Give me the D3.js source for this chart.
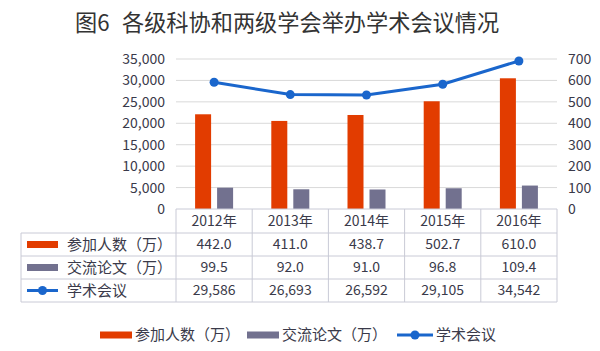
<!DOCTYPE html>
<html>
<head>
<meta charset="utf-8">
<script src="https://cdn.jsdelivr.net/npm/d3@7"></script>
<style>
  body { margin: 0; background: #fff; }
  svg { font-family: "Noto Sans CJK SC", "Noto Sans", sans-serif; }
</style>
</head>
<body>
<svg width="600" height="351"></svg>
<script>
const width = 600;
const height = 351;

// 数据
const years = ["2012年", "2013年", "2014年", "2015年", "2016年"];
const participants = [442.0, 411.0, 438.7, 502.7, 610.0]; // 参加人数（万）
const papers = [99.5, 92.0, 91.0, 96.8, 109.4]; // 交流论文（万）
const meetings = [29586, 26693, 26592, 29105, 34542]; // 学术会议
const leftTicks = [0, 5000, 10000, 15000, 20000, 25000, 30000, 35000];
const rightTicks = [0, 100, 200, 300, 400, 500, 600, 700];
const seriesNames = ["参加人数（万）", "交流论文（万）", "学术会议"];

const colors = { red: "#e23c00", gray: "#72718f", blue: "#1a66cc" };
const textColor = "#3a3a4a";

const plot = { left: 176, right: 557, top: 59, bottom: 209 };

const svg = d3.select("svg");

// 标题
const title = svg.append("text")
    .attr("y", 31)
    .attr("font-size", 22.2)
    .attr("fill", "#333");
title.append("tspan").attr("x", 75).text("图6");
title.append("tspan").attr("x", 122).text("各级科协和两级学会举办学术会议情况");

const x = d3.scaleBand().domain(years).range([plot.left, plot.right]);
const yLeft = d3.scaleLinear().domain([0, 35000]).range([plot.bottom, plot.top]);
const yRight = d3.scaleLinear().domain([0, 700]).range([plot.bottom, plot.top]);

// 网格线
svg.append("g")
    .selectAll("line")
    .data(leftTicks.slice(1))
    .join("line")
    .attr("x1", plot.left)
    .attr("x2", plot.right)
    .attr("y1", (d) => yLeft(d))
    .attr("y2", (d) => yLeft(d))
    .attr("stroke", "#d9d9d9")
    .attr("stroke-width", 1);

// 左轴
const leftAxis = svg.append("g")
    .attr("transform", `translate(${plot.left - 8},0)`)
    .call(d3.axisLeft(yLeft).tickValues(leftTicks).tickFormat(d3.format(",")).tickSize(0).tickPadding(3));
leftAxis.select(".domain").remove();
leftAxis.selectAll("text").attr("font-size", 14).attr("fill", textColor).attr("font-family", "Noto Sans CJK SC");

// 右轴
const rightAxis = svg.append("g")
    .attr("transform", `translate(${plot.right + 8},0)`)
    .call(d3.axisRight(yRight).tickValues(rightTicks).tickSize(0).tickPadding(3));
rightAxis.select(".domain").remove();
rightAxis.selectAll("text").attr("font-size", 14).attr("fill", textColor).attr("font-family", "Noto Sans CJK SC");

// 柱子
const barW = 16;
const cx = (d) => x(d) + x.bandwidth() / 2;

svg.append("g")
    .selectAll("rect")
    .data(years)
    .join("rect")
    .attr("x", (d) => cx(d) - 19)
    .attr("width", barW)
    .attr("y", (d, i) => yRight(participants[i]))
    .attr("height", (d, i) => plot.bottom - yRight(participants[i]))
    .attr("fill", colors.red);

svg.append("g")
    .selectAll("rect")
    .data(years)
    .join("rect")
    .attr("x", (d) => cx(d) + 3)
    .attr("width", barW)
    .attr("y", (d, i) => yRight(papers[i]))
    .attr("height", (d, i) => plot.bottom - yRight(papers[i]))
    .attr("fill", colors.gray);

// 折线
const line = d3.line()
    .x((d, i) => cx(years[i]))
    .y((d) => yLeft(d));

svg.append("path")
    .datum(meetings)
    .attr("d", line)
    .attr("fill", "none")
    .attr("stroke", colors.blue)
    .attr("stroke-width", 3);

svg.append("g")
    .selectAll("circle")
    .data(meetings)
    .join("circle")
    .attr("cx", (d, i) => cx(years[i]))
    .attr("cy", (d) => yLeft(d))
    .attr("r", 4.5)
    .attr("fill", colors.blue);

// 数据表
const tableLeft = 21;
const rowEdges = [209, 233, 256, 279, 302];
const border = "#c9cad6";
const table = svg.append("g");

// 表头行
table.append("line")
    .attr("x1", plot.left).attr("x2", plot.right)
    .attr("y1", rowEdges[0]).attr("y2", rowEdges[0])
    .attr("stroke", border);
// 水平线
table.selectAll(".hline")
    .data(rowEdges.slice(1))
    .join("line")
    .attr("x1", tableLeft)
    .attr("x2", plot.right)
    .attr("y1", (d) => d)
    .attr("y2", (d) => d)
    .attr("stroke", border);
// 竖线
const colEdges = years.map((d) => x(d)).concat([plot.right]);
table.selectAll(".vline")
    .data(colEdges)
    .join("line")
    .attr("x1", (d) => d).attr("x2", (d) => d)
    .attr("y1", rowEdges[0]).attr("y2", rowEdges[4])
    .attr("stroke", border);
table.append("line")
    .attr("x1", tableLeft).attr("x2", tableLeft)
    .attr("y1", rowEdges[1]).attr("y2", rowEdges[4])
    .attr("stroke", border);

// 年份
table.selectAll(".year")
    .data(years)
    .join("text")
    .attr("x", (d) => cx(d))
    .attr("y", (rowEdges[0] + rowEdges[1]) / 2)
    .attr("dy", "0.35em")
    .attr("text-anchor", "middle")
    .attr("font-size", 14)
    .attr("fill", textColor)
    .text((d) => d);

const rows = [
    participants.map((v) => v.toFixed(1)),
    papers.map((v) => v.toFixed(1)),
    meetings.map(d3.format(",")),
];
rows.forEach((vals, r) => {
    const yMid = (rowEdges[r + 1] + rowEdges[r + 2]) / 2;
    table.append("g")
        .selectAll("text")
        .data(vals)
        .join("text")
        .attr("x", (d, i) => cx(years[i]))
        .attr("y", yMid)
        .attr("dy", "0.35em")
        .attr("text-anchor", "middle")
        .attr("font-size", 14)
        .attr("fill", textColor)
        .text((d) => d);
});

// 图例符号
function drawKey(g, kind, x0, yMid, w, thick) {
    if (kind === 2) {
        g.append("line")
            .attr("x1", x0).attr("x2", x0 + w)
            .attr("y1", yMid).attr("y2", yMid)
            .attr("stroke", colors.blue).attr("stroke-width", 3);
        g.append("circle")
            .attr("cx", x0 + w / 2).attr("cy", yMid).attr("r", 4.5)
            .attr("fill", colors.blue);
    } else {
        g.append("rect")
            .attr("x", x0).attr("y", yMid - thick / 2)
            .attr("width", w).attr("height", thick)
            .attr("fill", kind === 0 ? colors.red : colors.gray);
    }
}

seriesNames.forEach((name, r) => {
    const yMid = (rowEdges[r + 1] + rowEdges[r + 2]) / 2;
    drawKey(table, r, 27, yMid, 31, 7);
    table.append("text")
        .attr("x", 67)
        .attr("y", yMid)
        .attr("dy", "0.35em")
        .attr("font-size", 15)
        .attr("fill", textColor)
        .text(name);
});

// 底部图例
const legendX = [100, 247, 397];
const legend = svg.append("g");
seriesNames.forEach((name, i) => {
    const w = i === 2 ? 36 : 32;
    drawKey(legend, i, legendX[i], 335, w, 7);
    legend.append("text")
        .attr("x", legendX[i] + w + 3)
        .attr("y", 335)
        .attr("dy", "0.35em")
        .attr("font-size", 15)
        .attr("fill", textColor)
        .text(name);
});
</script>
</body>
</html>
